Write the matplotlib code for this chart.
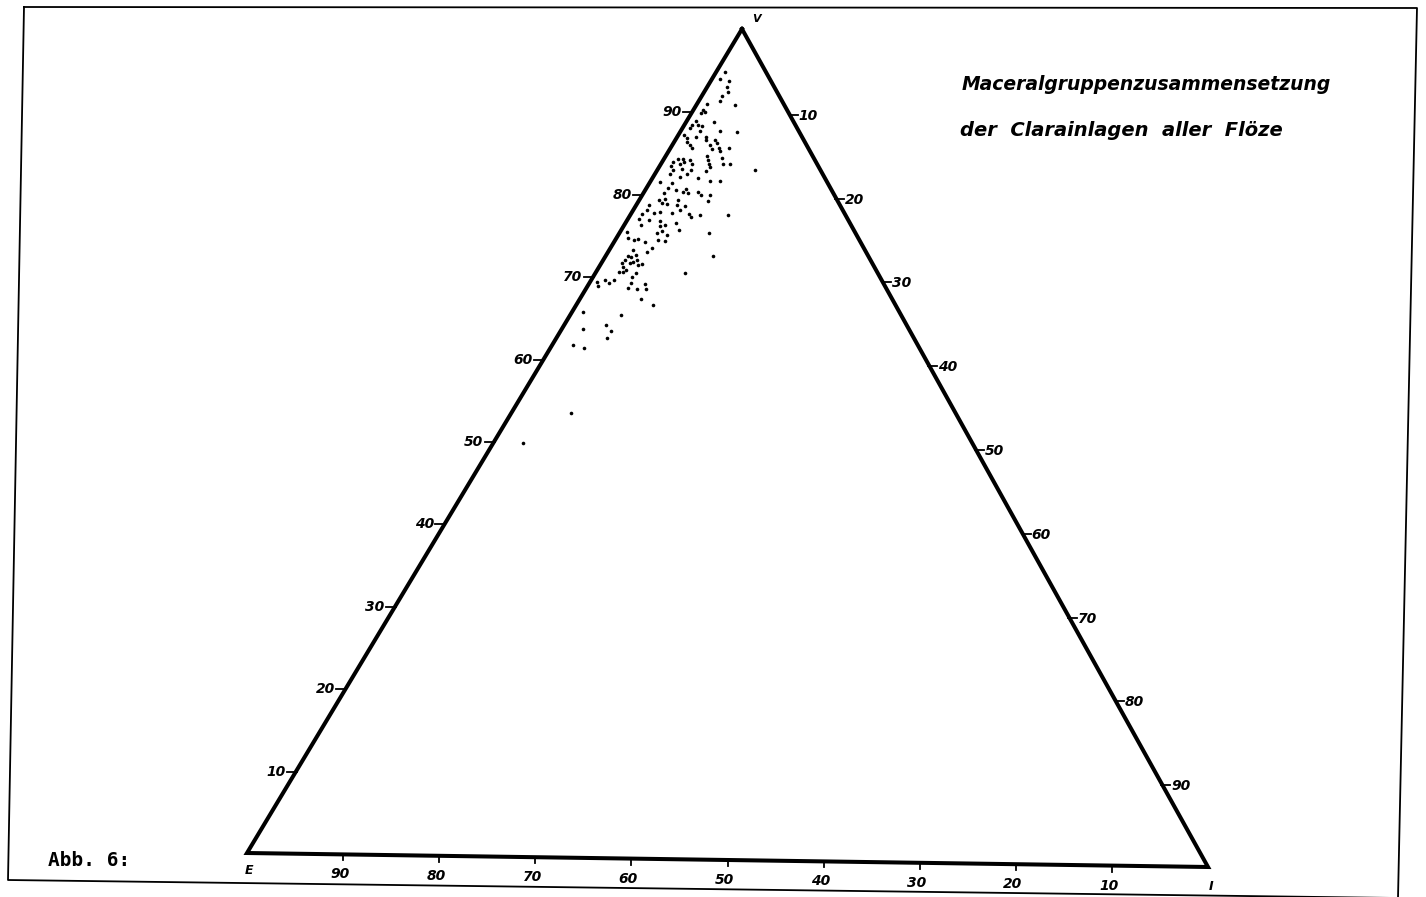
import numpy as np
import matplotlib.pyplot as plt

# Maceral group composition of the clarain layers (vol.-%)
# V = vitrinite, I = inertinite, E = exinite (rest to 100)
vitrinite = [
    94.8, 93.9, 93.7, 93.0, 92.4, 91.9, 91.3, 90.9, 90.9, 90.2,
    89.8, 89.9, 88.8, 88.8, 88.4, 88.4, 88.0, 88.3, 87.7, 87.7,
    87.6, 87.1, 86.8, 86.9, 87.0, 86.6, 86.6, 86.2, 86.0, 85.5,
    85.7, 85.3, 85.7, 86.0, 86.3, 85.6, 84.5, 83.7, 83.7, 84.7,
    84.2, 83.7, 83.9, 84.2, 84.3, 83.9, 84.1, 83.7, 83.4,
    83.0, 82.9, 82.4, 83.6, 83.1, 82.5, 83.0, 82.1, 82.0, 81.7,
    81.7, 82.9, 83.4, 81.5, 81.3, 80.8, 80.7, 80.3, 80.2, 80.3,
    80.0, 80.0, 79.2, 79.3, 78.9, 79.4, 78.8, 79.3, 78.7, 78.1,
    78.6, 78.7, 78.1, 77.9, 77.7, 77.6, 77.7, 77.6, 77.3, 77.5,
    77.6, 76.8, 77.0, 76.7, 76.6, 76.2, 76.1, 76.3, 75.7, 75.4,
    75.4, 74.6, 74.4, 74.6, 74.2, 75.3, 75.5, 74.5, 73.5, 73.0,
    73.2, 72.6, 72.5, 75.1, 74.3, 72.6, 80.5, 80.1,
    71.6, 71.2, 72.0, 71.6, 72.4, 71.8, 72.0, 71.4, 70.8, 70.6,
    70.6, 71.6, 70.5, 70.0, 70.5, 69.3, 68.8, 69.6, 69.2, 69.6,
    68.7, 69.3, 68.5, 69.2, 68.5, 67.4, 66.6, 65.7, 65.4, 63.6,
    64.2, 63.4, 62.6, 61.7, 61.4, 53.5, 49.8,
]
inertinite = [
    0.9, 0.9, 1.9, 2.0, 2.5, 2.1, 2.2, 4.0, 1.0, 1.0,
    1.0, 1.4, 2.9, 1.0, 1.4, 0.8, 0.8, 1.9, 2.0, 4.0,
    5.9, 0.6, 1.1, 2.0, 2.9, 3.2, 4.1, 4.5, 3.9, 4.3,
    5.0, 5.3, 6.0, 1.8, 1.3, 2.2, 5.9, 7.1, 6.4, 4.2,
    4.6, 5.0, 1.1, 1.5, 1.9, 2.3, 2.8, 3.2, 1.2,
    10.1, 1.6, 1.6, 2.0, 2.5, 3.3, 3.4, 2.8, 4.7, 6.1,
    7.1, 5.1, 5.2, 1.0, 2.3, 2.2, 4.1, 4.0, 4.6, 5.6,
    6.0, 7.0, 7.2, 2.0, 2.5, 2.6, 3.1, 4.0, 4.2, 4.8,
    5.1, 1.3, 1.4, 2.9, 2.3, 1.1, 4.2, 6.0, 6.4, 7.2,
    10.1, 2.3, 1.1, 3.5, 5.2, 1.8, 3.8, 4.2, 6.0, 9.2,
    0.7, 1.2, 1.9, 2.3, 3.2, 3.9, 4.3, 4.4, 4.3, 4.0,
    2.5, 3.1, 2.3, 5.0, 5.2, 11.1, 3.2, 2.1,
    2.1, 2.5, 2.2, 3.0, 2.7, 3.2, 3.5, 3.9, 3.0, 2.8,
    2.3, 4.2, 4.2, 4.0, 9.3, 0.7, 1.1, 1.4, 2.0, 2.3,
    4.3, 4.3, 5.3, 5.8, 6.2, 6.3, 7.9, 1.1, 5.2, 2.2,
    4.3, 5.2, 5.2, 2.1, 3.4, 6.2, 3.1,
]
tick_values = [10, 20, 30, 40, 50, 60, 70, 80, 90]

# triangle corners on the page (pixels)
E_xy = np.array([247.0, 853.0])
V_xy = np.array([742.0, 29.0])
I_xy = np.array([1208.0, 867.0])


def tern(v, i):
    v = np.asarray(v, dtype=float) / 100
    i = np.asarray(i, dtype=float) / 100
    e = 1 - v - i
    x = e * E_xy[0] + v * V_xy[0] + i * I_xy[0]
    y = e * E_xy[1] + v * V_xy[1] + i * I_xy[1]
    return x, y


fig = plt.figure(figsize=(14.26, 8.97), dpi=100)
ax = fig.add_axes([0, 0, 1, 1])
ax.set_xlim(0, 1426)
ax.set_ylim(897, 0)
ax.axis('off')

# page frame (scanned, slightly skewed)
ax.plot([24, 1417, 1398, 8, 24], [7, 8, 898, 880, 7], color='black', lw=1.3)

# triangle
tx, ty = tern([100, 0, 0, 100], [0, 0, 100, 0])
ax.plot(tx, ty, color='black', lw=2.9, solid_joinstyle='miter')

lab = dict(fontsize=10, fontweight='heavy', fontstyle='italic', color='black')

for k in tick_values:
    # V scale on the left edge
    x, y = tern(k, 0)
    ax.plot([x - 10, x], [y + 1, y + 1], color='black', lw=1.3)
    ax.text(x - 11, y + 1, str(k), ha='right', va='center', **lab)
    # I scale on the right edge
    x, y = tern(100 - k, k)
    ax.plot([x, x + 9], [y + 2, y + 2], color='black', lw=1.3)
    ax.text(x + 10, y + 3, str(k), ha='left', va='center', **lab)
    # E scale on the base
    x, y = tern(0, 100 - k)
    ax.plot([x, x], [y, y + 6], color='black', lw=1.3)
    ax.text(x - 3, y + 20, str(k), ha='center', va='center', **lab)

ax.text(756, 19, 'V', ha='center', va='center', fontsize=8, fontweight='bold', fontstyle='italic')
ax.text(249, 871, 'E', ha='center', va='center', fontsize=9, fontweight='bold', fontstyle='italic')
ax.text(1211, 886, 'I', ha='center', va='center', fontsize=9, fontweight='bold', fontstyle='italic')

# data points
px, py = tern(vitrinite, inertinite)
ax.plot(px, py, 'o', color='black', markersize=2.6, markeredgewidth=0)

ax.text(962, 84, 'Maceralgruppenzusammensetzung', ha='left', va='center',
        fontsize=13.5, fontweight='heavy', fontstyle='italic')
ax.text(960, 130, 'der  Clarainlagen  aller  Flöze', ha='left', va='center',
        fontsize=14, fontweight='heavy', fontstyle='italic')

ax.text(48, 860, 'Abb. 6:', ha='left', va='center', fontsize=14,
        family='DejaVu Sans Mono', fontweight='bold')

plt.savefig('out.png', dpi=100)
